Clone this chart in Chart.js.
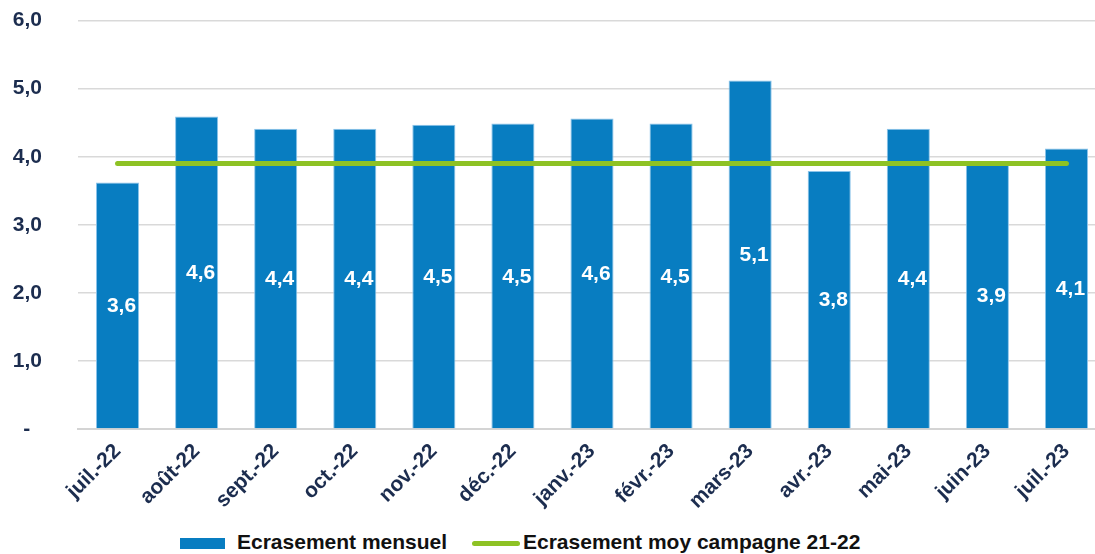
<!DOCTYPE html>
<html>
<head>
<meta charset="utf-8">
<script src="https://cdn.jsdelivr.net/npm/chart.js@4/dist/chart.umd.min.js"></script>
<style>
  html, body { margin: 0; padding: 0; background: #fff; overflow: hidden; }
  #wrap { position: relative; width: 1095px; height: 554px; overflow: hidden; }
  #box { position: absolute; left: 0; top: -28px; width: 1106px; height: 548px; }
  .legend { position: absolute; top: 530px; left: 0; height: 24px;
    font: bold 21px "Liberation Sans", Arial, sans-serif; color: #111; white-space: nowrap; }
  .legend span { position: absolute; top: 0; line-height: 24px; }
  .swatch { position: absolute; }
</style>
</head>
<body>
<div id="wrap">
  <div id="box"><canvas id="chart"></canvas></div>
  <div class="legend">
    <div class="swatch" style="left:180px; top:8px; width:45px; height:11px; background:#087dc1;"></div>
    <span style="left:237px;">Ecrasement mensuel</span>
    <div class="swatch" style="left:472px; top:11px; width:48px; height:5px; border-radius:3px; background:#8ec224;"></div>
    <span style="left:523px;">Ecrasement moy campagne 21-22</span>
  </div>
</div>
<script>
'use strict';

const MONTHS = ['juil.-22', 'août-22', 'sept.-22', 'oct.-22', 'nov.-22', 'déc.-22', 'janv.-23',
  'févr.-23', 'mars-23', 'avr.-23', 'mai-23', 'juin-23', 'juil.-23'];
const MENSUEL = [3.62, 4.59, 4.41, 4.41, 4.47, 4.49, 4.56, 4.49, 5.12, 3.79, 4.41, 3.91, 4.12];
const MOY_CAMPAGNE = [3.9, 3.9, 3.9, 3.9, 3.9, 3.9, 3.9, 3.9, 3.9, 3.9, 3.9, 3.9, 3.9];
const Y_TICKS = [0, 1, 2, 3, 4, 5, 6];

const NAVY = '#1c2d4f';
const FONT = '"Liberation Sans", Arial, sans-serif';

// virgule décimale à la française
function fmt1(v) { return v.toFixed(1).replace('.', ','); }

// étiquettes blanches au milieu des barres
const barLabels = {
  id: 'barLabels',
  afterDatasetsDraw(chart) {
    const ctx = chart.ctx;
    const meta = chart.getDatasetMeta(1);
    ctx.save();
    ctx.font = 'bold 21px ' + FONT;
    ctx.fillStyle = '#fff';
    ctx.textAlign = 'center';
    ctx.textBaseline = 'middle';
    meta.data.forEach((bar, i) => {
      const mid = (bar.y + bar.base) / 2;
      ctx.fillText(fmt1(MENSUEL[i]), bar.x + 4, mid + 1);
    });
    ctx.restore();
  },
};

new Chart(document.getElementById('chart'), {
  data: {
    labels: MONTHS,
    datasets: [
      {
        type: 'line', label: 'Ecrasement moy campagne 21-22', data: MOY_CAMPAGNE,
        borderColor: '#8ec224', borderWidth: 5, borderCapStyle: 'round',
        pointRadius: 0, order: 0,
      },
      {
        type: 'bar', label: 'Ecrasement mensuel', data: MENSUEL,
        backgroundColor: '#087dc1', borderColor: '#8cc4ea', borderWidth: 1,
        barPercentage: 0.545, categoryPercentage: 1, order: 1,
      },
    ],
  },
  options: {
    responsive: true,
    maintainAspectRatio: false,
    animation: false,
    layout: { padding: 0 },
    plugins: { legend: { display: false }, tooltip: { enabled: false } },
    scales: {
      x: {
        grid: { display: false },
        border: { display: true, color: '#d4d4d4', width: 2 },
        ticks: {
          color: NAVY, font: { family: FONT, size: 21, weight: 'bold' },
          minRotation: 45, maxRotation: 45, padding: 2, autoSkip: false,
        },
        afterFit: (s) => { s.height = 91; },
      },
      y: {
        min: 0, max: 6,
        afterBuildTicks: (s) => { s.ticks = Y_TICKS.map((v) => ({ value: v })); },
        grid: { color: '#d9d9d9', lineWidth: 1.5, drawTicks: false },
        border: { display: false },
        ticks: {
          color: NAVY, font: { family: FONT, size: 21, weight: 'bold' }, padding: 36,
          callback: (v) => (v === 0 ? '-\u00a0\u00a0' : fmt1(v)),
        },
        afterFit: (s) => { s.width = 78; },
      },
    },
  },
  plugins: [barLabels],
});
</script>
</body>
</html>
